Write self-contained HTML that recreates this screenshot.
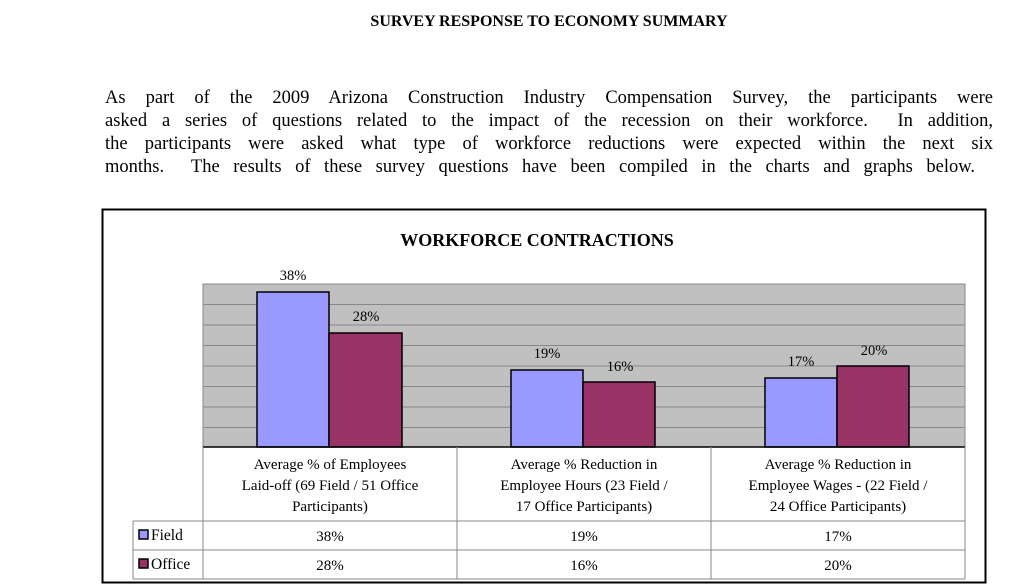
<!DOCTYPE html>
<html><head><meta charset="utf-8"><style>
body{margin:0;width:1024px;height:588px;background:#fff;overflow:hidden;font-family:"Liberation Serif",serif;color:#000;position:relative}
.t{position:absolute;top:13px;left:0;width:1098px;text-align:center;font-weight:bold;font-size:16px}
.p{position:absolute;left:105px;width:888px;font-size:18.5px;line-height:23px}
.p div{text-align:justify;text-align-last:justify;white-space:nowrap}
</style></head><body>
<div class="t">SURVEY RESPONSE TO ECONOMY SUMMARY</div>
<div class="p" style="top:87px">
<div>As part of the 2009 Arizona Construction Industry Compensation Survey, the participants were</div>
<div>asked a series of questions related to the impact of the recession on their workforce.&nbsp; In addition,</div>
<div>the participants were asked what type of workforce reductions were expected within the next six</div>
<div style="width:870px">months.&nbsp; The results of these survey questions have been compiled in the charts and graphs below.</div>
</div>
<svg style="position:absolute;left:0;top:0" width="1024" height="588" font-family="Liberation Serif, serif">
<rect x="102.5" y="209.5" width="883" height="373" fill="#fff" stroke="#000" stroke-width="2"/>
<text x="537" y="246" text-anchor="middle" font-weight="bold" font-size="18">WORKFORCE CONTRACTIONS</text>
<rect x="203" y="284" width="762" height="163" fill="#c0c0c0" stroke="#888"/>
<g stroke="#888" stroke-width="1">
<line x1="203" x2="965" y1="304.5" y2="304.5"/><line x1="203" x2="965" y1="325" y2="325"/>
<line x1="203" x2="965" y1="345.5" y2="345.5"/><line x1="203" x2="965" y1="366" y2="366"/>
<line x1="203" x2="965" y1="386.5" y2="386.5"/><line x1="203" x2="965" y1="407" y2="407"/>
<line x1="203" x2="965" y1="427.5" y2="427.5"/></g>
<g stroke="#000" stroke-width="1.5">
<rect x="257" y="292" width="72" height="155" fill="#9999ff"/>
<rect x="329" y="333" width="73" height="114" fill="#993366"/>
<rect x="511" y="370" width="72" height="77" fill="#9999ff"/>
<rect x="583" y="382" width="72" height="65" fill="#993366"/>
<rect x="765" y="378" width="72" height="69" fill="#9999ff"/>
<rect x="837" y="366" width="72" height="81" fill="#993366"/>
</g>
<line x1="203" x2="965" y1="447" y2="447" stroke="#000" stroke-width="1.5"/>
<g font-size="14.5" text-anchor="middle">
<text x="293" y="280">38%</text><text x="366" y="321">28%</text>
<text x="547" y="358">19%</text><text x="620" y="371">16%</text>
<text x="801" y="366">17%</text><text x="874" y="355">20%</text>
</g>
<g stroke="#888" stroke-width="1" fill="none">
<line x1="203" y1="447" x2="203" y2="579"/><line x1="457" y1="447" x2="457" y2="579"/>
<line x1="711" y1="447" x2="711" y2="579"/><line x1="965" y1="447" x2="965" y2="579"/>
<line x1="133" y1="521" x2="965" y2="521"/><line x1="133" y1="550" x2="965" y2="550"/>
<line x1="133" y1="579" x2="965" y2="579"/><line x1="133" y1="521" x2="133" y2="579"/>
</g>
<g font-size="15" text-anchor="middle">
<text x="330" y="469">Average % of Employees</text><text x="330" y="490">Laid-off (69 Field / 51 Office</text><text x="330" y="511">Participants)</text>
<text x="584" y="469">Average % Reduction in</text><text x="584" y="490">Employee Hours (23 Field /</text><text x="584" y="511">17 Office Participants)</text>
<text x="838" y="469">Average % Reduction in</text><text x="838" y="490">Employee Wages - (22 Field /</text><text x="838" y="511">24 Office Participants)</text>
<text x="330" y="541">38%</text><text x="584" y="541">19%</text><text x="838" y="541">17%</text>
<text x="330" y="570">28%</text><text x="584" y="570">16%</text><text x="838" y="570">20%</text>
</g>
<rect x="139" y="530" width="9" height="9" fill="#9999ff" stroke="#000" stroke-width="1.5"/>
<rect x="139" y="559" width="9" height="9" fill="#993366" stroke="#000" stroke-width="1.5"/>
<text x="151" y="540" font-size="15.5">Field</text>
<text x="151" y="569" font-size="15.5">Office</text>
</svg>
</body></html>
